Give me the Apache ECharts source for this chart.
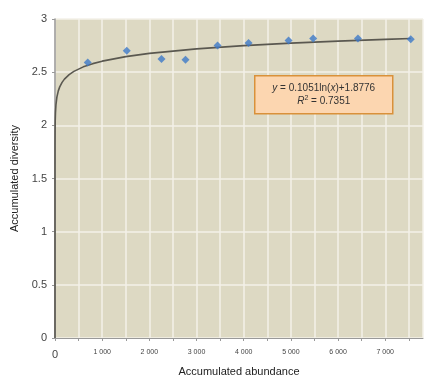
<!DOCTYPE html>
<html>
<head>
<meta charset="utf-8">
<script src="https://cdn.jsdelivr.net/npm/echarts@6/dist/echarts.min.js"></script>
<style>
  html, body { margin: 0; padding: 0; background: #fff; }
  #main { width: 440px; height: 382px; }
</style>
</head>
<body>
<div id="main"></div>
<script>
// observed points (accumulated abundance, accumulated diversity)
var abundance = [694, 1521, 2257, 2766, 3445, 4103, 4951, 5473, 6421, 7540];
var diversity = [2.592, 2.702, 2.623, 2.617, 2.750, 2.775, 2.797, 2.816, 2.816, 2.810];
// logarithmic trendline as printed on the chart: y = a*ln(x) + b
var trendA = 0.1051;
var trendB = 1.8776;
var trendR2 = 0.7351;
var yTicks = [0, 0.5, 1, 1.5, 2, 2.5, 3];

var chart = echarts.init(document.getElementById('main'));

// trendline samples drawn from its equation, from near 0 up to the last point
var trend = [];
var xs = [1e-8, 1e-6, 1e-4, 0.01, 0.1, 0.5, 1, 2, 5, 10, 20, 40, 70, 100, 150, 200, 300, 400, 600, 800, 1000, 1500, 2000, 3000, 4000, 5000, 6000, 7000, 7540];
xs.forEach(function (x) {
  var y = trendA * Math.log(x) + trendB;
  trend.push([x, Math.max(0, y)]);
});
trend.unshift([0, 0]);

var points = abundance.map(function (x, i) { return [x, diversity[i]]; });

var option = {
  animation: false,
  grid: {
    left: 55, right: 17, top: 19, bottom: 44,
    outerBoundsMode: 'none', containLabel: false,
    show: true, backgroundColor: '#DDD9C3', borderWidth: 0
  },
  xAxis: {
    type: 'value',
    min: 0,
    max: 7800,
    interval: 500,
    name: 'Accumulated abundance',
    nameLocation: 'middle',
    nameGap: 28,
    nameTextStyle: { fontFamily: 'Liberation Sans', fontSize: 11, color: '#222' },
    axisLine: { show: true, lineStyle: { color: '#999', width: 1 } },
    axisTick: { show: true, length: 3, lineStyle: { color: '#999' } },
    splitLine: { show: true, lineStyle: { color: '#F3F1E8', width: 1.5 } },
    axisLabel: {
      margin: 11,
      fontFamily: 'Liberation Sans',
      fontSize: 7,
      color: '#444',
      showMaxLabel: false,
      formatter: function (v) {
        if (v === 0) return '{z|0}';
        if (v % 1000 !== 0) return '';
        return (v / 1000) + ' 000';
      },
      rich: { z: { fontSize: 11, fontFamily: 'Liberation Sans', color: '#444' } }
    }
  },
  yAxis: {
    type: 'value',
    min: 0,
    max: 3,
    interval: 0.5,
    name: 'Accumulated diversity',
    nameLocation: 'middle',
    nameGap: 32,
    nameTextStyle: { fontFamily: 'Liberation Sans', fontSize: 11, color: '#222' },
    axisLine: { show: true, lineStyle: { color: '#999', width: 1.5 } },
    axisTick: { show: true, length: 3, lineStyle: { color: '#999' } },
    splitLine: { show: true, lineStyle: { color: '#F3F1E8', width: 1.5 } },
    axisLabel: {
      margin: 8,
      fontFamily: 'Liberation Sans',
      fontSize: 11,
      color: '#444',
      formatter: function (v) { return yTicks.indexOf(v) >= 0 ? String(v) : ''; }
    }
  },
  series: [
    {
      type: 'line',
      data: trend,
      showSymbol: false,
      symbol: 'none',
      smooth: false,
      lineStyle: { color: '#5A5850', width: 1.6 },
      z: 2
    },
    {
      type: 'scatter',
      data: points,
      symbol: 'diamond',
      symbolSize: 8,
      itemStyle: { color: '#3D79C8' },
      z: 3
    }
  ],
  graphic: [
    {
      type: 'group',
      left: 254,
      top: 75,
      z: 100,
      children: [
        {
          type: 'rect',
          z: 100,
          shape: { x: 0, y: 0, width: 138, height: 38 },
          style: { fill: '#FCD6B0', stroke: '#D9913A', lineWidth: 1.5 }
        },
        {
          type: 'text',
          z: 101,
          x: 69,
          y: 6,
          style: {
            text: '{i|y} = ' + trendA + 'ln({i|x})+' + trendB + '\n{i|R}{s|2} = ' + trendR2,
            align: 'center',
            fontFamily: 'Liberation Sans',
            fontSize: 10,
            lineHeight: 13,
            fill: '#333',
            rich: {
              i: { fontStyle: 'italic', fontFamily: 'Liberation Sans', fontSize: 10, fill: '#333' },
              s: { fontFamily: 'Liberation Sans', fontSize: 7, fill: '#333', verticalAlign: 'top', padding: [0, 0, 5, 0] }
            }
          }
        }
      ]
    }
  ]
};

chart.setOption(option);
</script>
</body>
</html>
